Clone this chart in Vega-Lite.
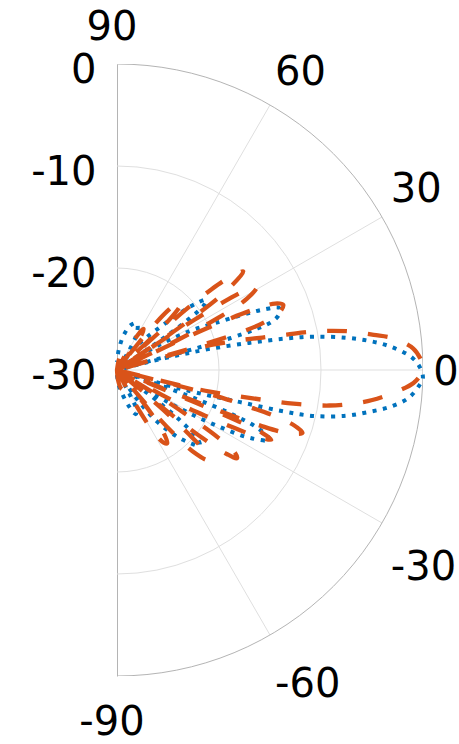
{
  "$schema": "https://vega.github.io/schema/vega-lite/v6.json",
  "width": 306,
  "height": 612,
  "autosize": "none",
  "padding": {"left": 117, "top": 64, "right": 36, "bottom": 68},
  "background": "#ffffff",
  "view": {"stroke": null},
  "config": {"font": "DejaVu Sans"},
  "datasets": {
    "rings": [{"level": -20}, {"level": -10}, {"level": 0}],
    "spokes": [{"angle": -60}, {"angle": -30}, {"angle": 0}, {"angle": 30}, {"angle": 60}],
    "thetaTicks": [{"angle": 90}, {"angle": 60}, {"angle": 30}, {"angle": 0}, {"angle": -30}, {"angle": -60}, {"angle": -90}],
    "pattern": [
      {"trace": "A", "angle": -90, "db": -29.5},
      {"trace": "A", "angle": -84, "db": -28.6},
      {"trace": "A", "angle": -78.7, "db": -27.8},
      {"trace": "A", "angle": -72, "db": -26.3},
      {"trace": "A", "angle": -67, "db": -25.3},
      {"trace": "A", "angle": -64, "db": -25.6},
      {"trace": "A", "angle": -62.5, "db": -27},
      {"trace": "A", "angle": -61, "db": -30},
      {"trace": "A", "angle": -56, "db": -27},
      {"trace": "A", "angle": -52.5, "db": -23.8},
      {"trace": "A", "angle": -48, "db": -21.2},
      {"trace": "A", "angle": -45, "db": -19.9},
      {"trace": "A", "angle": -42.5, "db": -19.0},
      {"trace": "A", "angle": -40.5, "db": -19.6},
      {"trace": "A", "angle": -38.8, "db": -21.8},
      {"trace": "A", "angle": -37.5, "db": -25},
      {"trace": "A", "angle": -36.5, "db": -30},
      {"trace": "A", "angle": -33, "db": -25.5},
      {"trace": "A", "angle": -31, "db": -22},
      {"trace": "A", "angle": -29, "db": -18.5},
      {"trace": "A", "angle": -27, "db": -15.3},
      {"trace": "A", "angle": -24.6, "db": -13.5},
      {"trace": "A", "angle": -22.5, "db": -15},
      {"trace": "A", "angle": -21, "db": -18},
      {"trace": "A", "angle": -20, "db": -22},
      {"trace": "A", "angle": -19.3, "db": -26},
      {"trace": "A", "angle": -18.5, "db": -30},
      {"trace": "A", "angle": -16.9, "db": -24.9},
      {"trace": "A", "angle": -15.6, "db": -21},
      {"trace": "A", "angle": -14.6, "db": -17.5},
      {"trace": "A", "angle": -14, "db": -13.5},
      {"trace": "A", "angle": -13.2, "db": -10.3},
      {"trace": "A", "angle": -11.3, "db": -7.1},
      {"trace": "A", "angle": -9.4, "db": -4.9},
      {"trace": "A", "angle": -7.7, "db": -3.0},
      {"trace": "A", "angle": -5.5, "db": -1.3},
      {"trace": "A", "angle": -3, "db": -0.35},
      {"trace": "A", "angle": -1.5, "db": 0},
      {"trace": "A", "angle": 0.5, "db": -0.3},
      {"trace": "A", "angle": 2.5, "db": -1.1},
      {"trace": "A", "angle": 4.9, "db": -3.1},
      {"trace": "A", "angle": 6.5, "db": -5.0},
      {"trace": "A", "angle": 8, "db": -7.3},
      {"trace": "A", "angle": 9.6, "db": -10.4},
      {"trace": "A", "angle": 10.6, "db": -13.3},
      {"trace": "A", "angle": 11.6, "db": -16.8},
      {"trace": "A", "angle": 12.8, "db": -20.6},
      {"trace": "A", "angle": 13.6, "db": -24},
      {"trace": "A", "angle": 14.4, "db": -27.4},
      {"trace": "A", "angle": 15, "db": -30},
      {"trace": "A", "angle": 15.3, "db": -23},
      {"trace": "A", "angle": 15.7, "db": -18.4},
      {"trace": "A", "angle": 16.4, "db": -15.8},
      {"trace": "A", "angle": 17.4, "db": -14},
      {"trace": "A", "angle": 19, "db": -13.2},
      {"trace": "A", "angle": 21, "db": -13},
      {"trace": "A", "angle": 22.3, "db": -14.3},
      {"trace": "A", "angle": 23.4, "db": -16},
      {"trace": "A", "angle": 25.5, "db": -19.3},
      {"trace": "A", "angle": 28, "db": -21.8},
      {"trace": "A", "angle": 30.5, "db": -25},
      {"trace": "A", "angle": 32.5, "db": -28.5},
      {"trace": "A", "angle": 33.3, "db": -30},
      {"trace": "A", "angle": 34.2, "db": -25.5},
      {"trace": "A", "angle": 35.3, "db": -21.5},
      {"trace": "A", "angle": 36.8, "db": -19.3},
      {"trace": "A", "angle": 38.3, "db": -18.9},
      {"trace": "A", "angle": 40, "db": -19.8},
      {"trace": "A", "angle": 42, "db": -21.6},
      {"trace": "A", "angle": 44.5, "db": -23.8},
      {"trace": "A", "angle": 48, "db": -25.8},
      {"trace": "A", "angle": 52, "db": -27.6},
      {"trace": "A", "angle": 55.5, "db": -30},
      {"trace": "A", "angle": 58, "db": -27.8},
      {"trace": "A", "angle": 62, "db": -25.8},
      {"trace": "A", "angle": 67, "db": -25},
      {"trace": "A", "angle": 73, "db": -25.4},
      {"trace": "A", "angle": 79, "db": -26.5},
      {"trace": "A", "angle": 85, "db": -28},
      {"trace": "A", "angle": 90, "db": -29.2},

      {"trace": "B", "angle": -90, "db": -30},
      {"trace": "B", "angle": -84, "db": -29},
      {"trace": "B", "angle": -78, "db": -28.2},
      {"trace": "B", "angle": -73, "db": -28},
      {"trace": "B", "angle": -68.5, "db": -28.6},
      {"trace": "B", "angle": -65, "db": -30},
      {"trace": "B", "angle": -62, "db": -26.5},
      {"trace": "B", "angle": -59.5, "db": -23},
      {"trace": "B", "angle": -57.2, "db": -21.5},
      {"trace": "B", "angle": -55.5, "db": -21.3},
      {"trace": "B", "angle": -53.5, "db": -22.3},
      {"trace": "B", "angle": -51.8, "db": -24.5},
      {"trace": "B", "angle": -50.8, "db": -27},
      {"trace": "B", "angle": -50.2, "db": -30},
      {"trace": "B", "angle": -49.5, "db": -25.5},
      {"trace": "B", "angle": -48.4, "db": -21.8},
      {"trace": "B", "angle": -47, "db": -19},
      {"trace": "B", "angle": -44.8, "db": -17.5},
      {"trace": "B", "angle": -43, "db": -18.2},
      {"trace": "B", "angle": -41.8, "db": -20.5},
      {"trace": "B", "angle": -40.8, "db": -24},
      {"trace": "B", "angle": -40.2, "db": -30},
      {"trace": "B", "angle": -39.4, "db": -23.5},
      {"trace": "B", "angle": -38.5, "db": -19.2},
      {"trace": "B", "angle": -37.4, "db": -16.4},
      {"trace": "B", "angle": -36.3, "db": -15.4},
      {"trace": "B", "angle": -35, "db": -15.9},
      {"trace": "B", "angle": -33.8, "db": -18},
      {"trace": "B", "angle": -33, "db": -20.8},
      {"trace": "B", "angle": -32.2, "db": -24.5},
      {"trace": "B", "angle": -31.2, "db": -30},
      {"trace": "B", "angle": -29.5, "db": -27},
      {"trace": "B", "angle": -28.3, "db": -22.5},
      {"trace": "B", "angle": -27.3, "db": -20},
      {"trace": "B", "angle": -26.3, "db": -17.2},
      {"trace": "B", "angle": -25.4, "db": -14.8},
      {"trace": "B", "angle": -24.3, "db": -13.4},
      {"trace": "B", "angle": -23.4, "db": -14.5},
      {"trace": "B", "angle": -22.9, "db": -17.5},
      {"trace": "B", "angle": -22.6, "db": -22},
      {"trace": "B", "angle": -22.3, "db": -30},
      {"trace": "B", "angle": -21.8, "db": -20},
      {"trace": "B", "angle": -21.2, "db": -15},
      {"trace": "B", "angle": -20.3, "db": -12.2},
      {"trace": "B", "angle": -18.7, "db": -10.8},
      {"trace": "B", "angle": -17.2, "db": -12},
      {"trace": "B", "angle": -16.2, "db": -14.2},
      {"trace": "B", "angle": -15.5, "db": -17},
      {"trace": "B", "angle": -14.8, "db": -19.4},
      {"trace": "B", "angle": -14.4, "db": -23},
      {"trace": "B", "angle": -14.1, "db": -30},
      {"trace": "B", "angle": -13.6, "db": -23},
      {"trace": "B", "angle": -13, "db": -20.5},
      {"trace": "B", "angle": -11.8, "db": -16.4},
      {"trace": "B", "angle": -10.8, "db": -12.4},
      {"trace": "B", "angle": -9.5, "db": -8.9},
      {"trace": "B", "angle": -8, "db": -6.5},
      {"trace": "B", "angle": -6.7, "db": -4.8},
      {"trace": "B", "angle": -4.5, "db": -2.6},
      {"trace": "B", "angle": -2.5, "db": -0.9},
      {"trace": "B", "angle": -0.8, "db": -0.2},
      {"trace": "B", "angle": 0.5, "db": 0},
      {"trace": "B", "angle": 2, "db": -0.2},
      {"trace": "B", "angle": 4.2, "db": -0.9},
      {"trace": "B", "angle": 6.6, "db": -2.8},
      {"trace": "B", "angle": 7.8, "db": -4.6},
      {"trace": "B", "angle": 9.3, "db": -6.7},
      {"trace": "B", "angle": 10.3, "db": -8.5},
      {"trace": "B", "angle": 11.2, "db": -10.7},
      {"trace": "B", "angle": 11.8, "db": -13},
      {"trace": "B", "angle": 12.6, "db": -15.4},
      {"trace": "B", "angle": 13.6, "db": -17.6},
      {"trace": "B", "angle": 14.8, "db": -20.3},
      {"trace": "B", "angle": 15.5, "db": -23.5},
      {"trace": "B", "angle": 16, "db": -30},
      {"trace": "B", "angle": 16.4, "db": -22},
      {"trace": "B", "angle": 17, "db": -17.3},
      {"trace": "B", "angle": 17.8, "db": -15.1},
      {"trace": "B", "angle": 19.5, "db": -13.1},
      {"trace": "B", "angle": 21.4, "db": -12.5},
      {"trace": "B", "angle": 22.8, "db": -13.2},
      {"trace": "B", "angle": 23.8, "db": -15.2},
      {"trace": "B", "angle": 24.6, "db": -18.5},
      {"trace": "B", "angle": 25.2, "db": -22.5},
      {"trace": "B", "angle": 25.6, "db": -30},
      {"trace": "B", "angle": 26.2, "db": -24},
      {"trace": "B", "angle": 27.2, "db": -19},
      {"trace": "B", "angle": 28.7, "db": -15.5},
      {"trace": "B", "angle": 30.6, "db": -14.1},
      {"trace": "B", "angle": 31.8, "db": -15.2},
      {"trace": "B", "angle": 32.4, "db": -17},
      {"trace": "B", "angle": 32.9, "db": -20.5},
      {"trace": "B", "angle": 33.3, "db": -24.5},
      {"trace": "B", "angle": 33.6, "db": -30},
      {"trace": "B", "angle": 34, "db": -24.5},
      {"trace": "B", "angle": 34.6, "db": -21},
      {"trace": "B", "angle": 35.8, "db": -17},
      {"trace": "B", "angle": 37.9, "db": -14.3},
      {"trace": "B", "angle": 39.4, "db": -15.6},
      {"trace": "B", "angle": 40.5, "db": -17.8},
      {"trace": "B", "angle": 41.2, "db": -20.8},
      {"trace": "B", "angle": 41.7, "db": -24.5},
      {"trace": "B", "angle": 42, "db": -30},
      {"trace": "B", "angle": 42.8, "db": -26},
      {"trace": "B", "angle": 43.8, "db": -23},
      {"trace": "B", "angle": 45.2, "db": -21.3},
      {"trace": "B", "angle": 46.6, "db": -20.8},
      {"trace": "B", "angle": 48, "db": -21.2},
      {"trace": "B", "angle": 49.3, "db": -22.2},
      {"trace": "B", "angle": 50.5, "db": -24.2},
      {"trace": "B", "angle": 51.4, "db": -27},
      {"trace": "B", "angle": 52, "db": -30},
      {"trace": "B", "angle": 53.5, "db": -27.3},
      {"trace": "B", "angle": 55, "db": -25.8},
      {"trace": "B", "angle": 57, "db": -25.2},
      {"trace": "B", "angle": 59, "db": -25.8},
      {"trace": "B", "angle": 61, "db": -27.5},
      {"trace": "B", "angle": 63, "db": -30},
      {"trace": "B", "angle": 67, "db": -28.8},
      {"trace": "B", "angle": 73, "db": -28.2},
      {"trace": "B", "angle": 79, "db": -28.8},
      {"trace": "B", "angle": 84, "db": -30},
      {"trace": "B", "angle": 90, "db": -30}
    ]
  },
  "layer": [
    {
      "data": {"name": "rings"},
      "transform": [
        {"filter": "datum.level < 0"},
        {"calculate": "datum.level + 30", "as": "rr"},
        {"calculate": "0", "as": "ox"},
        {"calculate": "0", "as": "oy"}
      ],
      "mark": {"type": "point", "shape": "circle", "filled": false, "clip": true, "strokeWidth": 1, "opacity": 1, "stroke": "#dfdfdf"},
      "encoding": {
        "x": {"field": "ox", "type": "quantitative", "scale": {"domain": [0, 30], "nice": false, "zero": false}, "axis": null},
        "y": {
          "field": "oy",
          "type": "quantitative",
          "scale": {"domain": [-30, 30], "nice": false, "zero": false},
          "axis": {
            "values": [0, 10, 20, 30],
            "labelExpr": "datum.value - 30",
            "title": null,
            "ticks": false,
            "grid": false,
            "domain": true,
            "domainColor": "#b4b4b4",
            "domainWidth": 1,
            "labelFont": "DejaVu Sans",
            "labelFontSize": 40,
            "labelColor": "#000000",
            "labelPadding": 21,
            "labelOffset": 6,
            "labelOverlap": false,
            "labelFlush": false,
            "labelBound": false
          }
        },
        "size": {"field": "rr", "type": "quantitative", "scale": {"type": "pow", "exponent": 2, "domain": [0, 30], "range": [0, 374544]}, "legend": null}
      }
    },
    {
      "data": {"name": "spokes"},
      "transform": [
        {"calculate": "0", "as": "ox"},
        {"calculate": "0", "as": "oy"},
        {"calculate": "30 * cos(datum.angle * PI / 180)", "as": "ex"},
        {"calculate": "30 * sin(datum.angle * PI / 180)", "as": "ey"}
      ],
      "mark": {"type": "rule", "stroke": "#dfdfdf", "strokeWidth": 1},
      "encoding": {
        "x": {"field": "ox", "type": "quantitative"},
        "y": {"field": "oy", "type": "quantitative"},
        "x2": {"field": "ex"},
        "y2": {"field": "ey"}
      }
    },
    {
      "data": {"name": "rings"},
      "transform": [
        {"filter": "datum.level === 0"},
        {"calculate": "datum.level + 30", "as": "rr"},
        {"calculate": "0", "as": "ox"},
        {"calculate": "0", "as": "oy"}
      ],
      "mark": {"type": "point", "shape": "circle", "filled": false, "clip": true, "strokeWidth": 1, "opacity": 1, "stroke": "#b4b4b4"},
      "encoding": {
        "x": {"field": "ox", "type": "quantitative"},
        "y": {"field": "oy", "type": "quantitative"},
        "size": {"field": "rr", "type": "quantitative", "scale": {"type": "pow", "exponent": 2, "domain": [0, 30], "range": [0, 374544]}, "legend": null}
      }
    },
    {
      "data": {"name": "pattern"},
      "transform": [
        {"filter": "datum.trace === 'A'"},
        {"calculate": "max(datum.db + 30, 0)", "as": "r"},
        {"calculate": "datum.r * cos(datum.angle * PI / 180)", "as": "px"},
        {"calculate": "datum.r * sin(datum.angle * PI / 180)", "as": "py"}
      ],
      "mark": {"type": "line", "strokeWidth": 4, "interpolate": "catmull-rom", "strokeCap": "butt", "color": "#0072BD", "strokeDash": [4, 6.5]},
      "encoding": {
        "x": {"field": "px", "type": "quantitative"},
        "y": {"field": "py", "type": "quantitative"},
        "order": {"field": "angle", "type": "quantitative"}
      }
    },
    {
      "data": {"name": "pattern"},
      "transform": [
        {"filter": "datum.trace === 'B'"},
        {"calculate": "max(datum.db + 30, 0)", "as": "r"},
        {"calculate": "datum.r * cos(datum.angle * PI / 180)", "as": "px"},
        {"calculate": "datum.r * sin(datum.angle * PI / 180)", "as": "py"}
      ],
      "mark": {"type": "line", "strokeWidth": 4.3, "interpolate": "catmull-rom", "strokeCap": "butt", "color": "#D95319", "strokeDash": [20, 21]},
      "encoding": {
        "x": {"field": "px", "type": "quantitative"},
        "y": {"field": "py", "type": "quantitative"},
        "order": {"field": "angle", "type": "quantitative"}
      }
    },
    {
      "data": {"name": "thetaTicks"},
      "transform": [
        {"filter": "abs(datum.angle) < 90"},
        {"calculate": "31.0 * cos(datum.angle * PI / 180)", "as": "lx"},
        {"calculate": "31.5 * sin(datum.angle * PI / 180) + (datum.angle > 0 ? 2.1 : datum.angle < 0 ? -3.4 : 0)", "as": "ly"}
      ],
      "mark": {"type": "text", "align": "left", "baseline": "middle", "fontSize": 40, "font": "DejaVu Sans", "color": "#000000", "dy": 2.5},
      "encoding": {
        "x": {"field": "lx", "type": "quantitative"},
        "y": {"field": "ly", "type": "quantitative"},
        "text": {"field": "angle", "type": "nominal"}
      }
    },
    {
      "data": {"name": "thetaTicks"},
      "transform": [
        {"filter": "abs(datum.angle) === 90"},
        {"calculate": "31.5 * cos(datum.angle * PI / 180)", "as": "lx"},
        {"calculate": "31.5 * sin(datum.angle * PI / 180) + (datum.angle > 0 ? 2.3 : -2.9)", "as": "ly"}
      ],
      "mark": {"type": "text", "align": "center", "baseline": "middle", "fontSize": 40, "font": "DejaVu Sans", "color": "#000000", "dx": -5, "dy": 2.5},
      "encoding": {
        "x": {"field": "lx", "type": "quantitative"},
        "y": {"field": "ly", "type": "quantitative"},
        "text": {"field": "angle", "type": "nominal"}
      }
    }
  ]
}
